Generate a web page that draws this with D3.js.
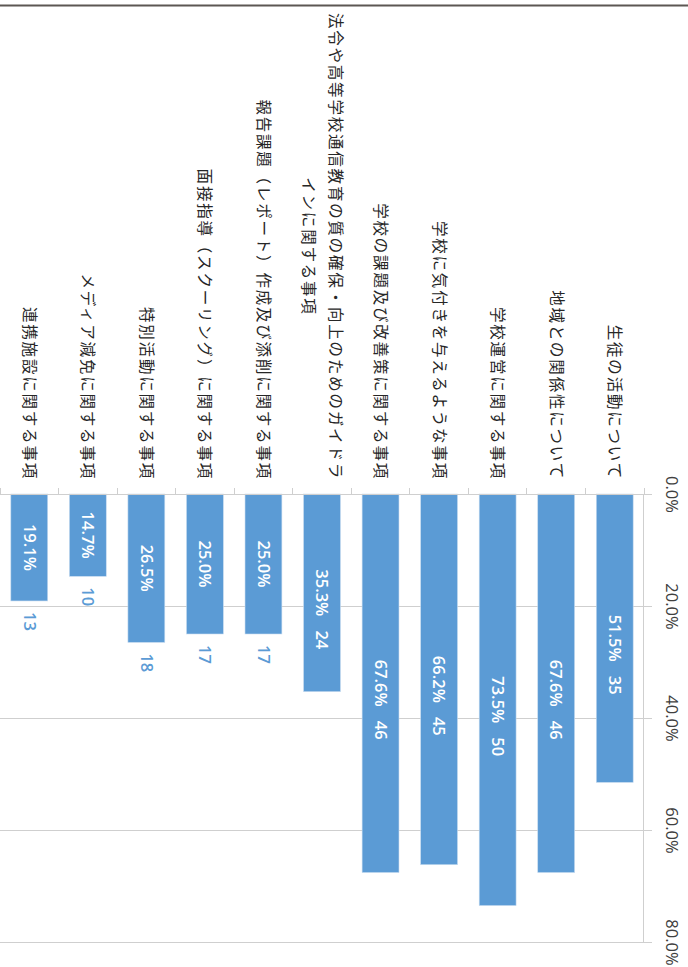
<!DOCTYPE html>
<html>
<head>
<meta charset="utf-8">
<script src="https://cdn.jsdelivr.net/npm/d3@7"></script>
<style>
  html, body { margin: 0; padding: 0; background: #ffffff; }
  svg { display: block; }
</style>
</head>
<body>
<svg id="chart" width="688" height="967"></svg>
<script>
// Survey items (top to bottom of the horizontal bar chart)
const categories = [
  "生徒の活動について",
  "地域との関係性について",
  "学校運営に関する事項",
  "学校に気付きを与えるような事項",
  "学校の課題及び改善策に関する事項",
  "法令や高等学校通信教育の質の確保・向上のためのガイドラ\nインに関する事項",
  "報告課題（レポート）作成及び添削に関する事項",
  "面接指導（スクーリング）に関する事項",
  "特別活動に関する事項",
  "メディア減免に関する事項",
  "連携施設に関する事項"
];
// Share of respondents (%)
const percents = [51.5, 67.6, 73.5, 66.2, 67.6, 35.3, 25.0, 25.0, 26.5, 14.7, 19.1];
// Number of respondents
const counts = [35, 46, 50, 45, 46, 24, 17, 17, 18, 10, 13];
// Value axis ticks (%)
const axisTicks = [0, 20, 40, 60, 80];

const rows = categories.map((c, i) => ({ cat: c, pct: percents[i], n: counts[i] }));

const svg = d3.select("#chart");
// The chart is laid out as a horizontal bar chart (967 wide, 688 tall)
// and turned a quarter clockwise onto the page.
const g = svg.append("g").attr("transform", "translate(688,0) rotate(90)");

const BAR = "#5b9bd5";
const GRID = "#cfcfcf";
const NUM_FONT = "'Open Sans', 'Noto Sans', sans-serif";
const JP_FONT = "'Noto Sans CJK JP', 'Noto Sans CJK SC', sans-serif";

const x = d3.scaleLinear().domain([0, 80]).range([494, 942]);
const y = d3.scaleBand().domain(categories).range([44, 688]).paddingInner(0).paddingOuter(0);
const barFrac = 0.63;
const barH = y.bandwidth() * barFrac;
const barOff = (y.bandwidth() - barH) / 2;

// left border of the panel
g.append("line")
  .attr("x1", 5.5).attr("x2", 5.5).attr("y1", 0).attr("y2", 688)
  .attr("stroke", "#5c5753").attr("stroke-width", 2);

// vertical gridlines
g.append("g").selectAll("line")
  .data(axisTicks.filter(t => t > 0))
  .join("line")
  .attr("x1", d => x(d)).attr("x2", d => x(d))
  .attr("y1", 44).attr("y2", 688)
  .attr("stroke", GRID).attr("stroke-width", 1)
  .attr("shape-rendering", "crispEdges");

// value axis along the top
const xAxis = g.append("g")
  .attr("transform", "translate(0,44)")
  .call(d3.axisTop(x).tickValues(axisTicks).tickFormat(d => d.toFixed(1) + "%")
    .tickSize(8).tickSizeOuter(0).tickPadding(14));
xAxis.select(".domain").attr("stroke", GRID).attr("shape-rendering", "crispEdges");
xAxis.selectAll(".tick line").attr("stroke", GRID).attr("shape-rendering", "crispEdges");
xAxis.selectAll(".tick text")
  .attr("fill", "#404040")
  .style("font-family", NUM_FONT)
  .style("font-size", "16.5px");

// bars
g.append("g").selectAll("rect")
  .data(rows)
  .join("rect")
  .attr("x", x(0))
  .attr("y", d => y(d.cat) + barOff)
  .attr("width", d => x(d.pct) - x(0))
  .attr("height", barH)
  .attr("fill", BAR)
  .attr("stroke", "#c9dcf0").attr("stroke-width", 0.6);

// category axis line with ticks at band boundaries
g.append("line")
  .attr("x1", x(0)).attr("x2", x(0)).attr("y1", 44).attr("y2", 688)
  .attr("stroke", GRID).attr("shape-rendering", "crispEdges");
const bounds = categories.map(c => y(c)).concat([y.range()[1]]);
g.append("g").selectAll("line")
  .data(bounds)
  .join("line")
  .attr("x1", x(0) - 6).attr("x2", x(0))
  .attr("y1", d => d).attr("y2", d => d)
  .attr("stroke", GRID).attr("shape-rendering", "crispEdges");

// category labels (right aligned block, lines centred inside it)
const labelRight = 480;
const lineGap = 27;
const catG = g.append("g")
  .style("font-family", JP_FONT)
  .style("font-size", "15.5px")
  .style("letter-spacing", "1.8px")
  .attr("fill", "#262626");
rows.forEach(d => {
  const lines = d.cat.split("\n");
  const cy = y(d.cat) + y.bandwidth() / 2;
  const t = catG.append("text").attr("text-anchor", "middle");
  const spans = lines.map((s, i) =>
    t.append("tspan")
      .attr("x", 0)
      .attr("y", cy + (i - (lines.length - 1) / 2) * lineGap)
      .attr("dy", "0.35em")
      .text(s));
  const w = d3.max(spans, s => s.node().getComputedTextLength());
  spans.forEach(s => s.attr("x", labelRight - w / 2));
});

// value labels: percentage centred in the bar, count following it
const valG = g.append("g")
  .style("font-family", NUM_FONT)
  .style("font-size", "16.5px")
  .style("font-weight", 600);
rows.forEach(d => {
  const cy = y(d.cat) + y.bandwidth() / 2;
  const x0 = x(0), x1 = x(d.pct);
  const cx = (x0 + x1) / 2;
  const p = valG.append("text")
    .attr("x", cx).attr("y", cy).attr("dy", "0.35em")
    .attr("text-anchor", "middle").attr("fill", "#ffffff")
    .text(d.pct.toFixed(1) + "%");
  const pw = p.node().getComputedTextLength();
  const c = valG.append("text")
    .attr("y", cy).attr("dy", "0.35em")
    .attr("text-anchor", "start")
    .text(d.n);
  const cw = c.node().getComputedTextLength();
  const inStart = cx + pw / 2 + 14;
  if (inStart + cw <= x1 - 20) {
    c.attr("x", inStart).attr("fill", "#ffffff");
  } else {
    c.attr("x", x1 + 11).attr("fill", BAR);
  }
});
</script>
</body>
</html>
